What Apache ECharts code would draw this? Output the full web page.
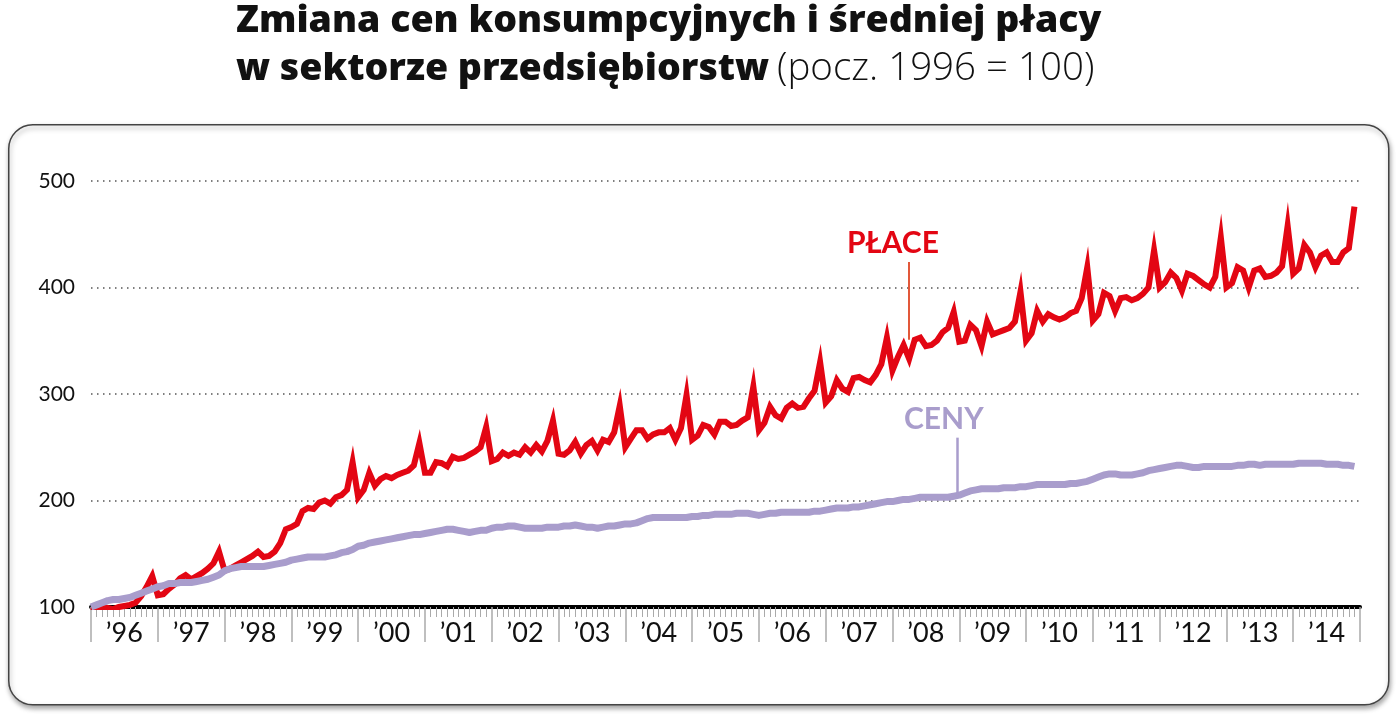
<!DOCTYPE html>
<html>
<head>
<meta charset="utf-8">
<script src="https://cdn.jsdelivr.net/npm/echarts/dist/echarts.min.js"></script>
<style>
  html, body { margin: 0; padding: 0; background: #fff; }
  #chart { width: 1400px; height: 717px; }
</style>
</head>
<body>
<div id="chart"></div>
<script>
// lata na osi X
var years = ['’96', '’97', '’98', '’99', '’00', '’01', '’02', '’03', '’04', '’05',
             '’06', '’07', '’08', '’09', '’10', '’11', '’12', '’13', '’14'];

// przeciętna płaca w sektorze przedsiębiorstw, miesięcznie (sty 1996 = 100)
var place = [
  100, 99, 100, 99, 98, 100, 101, 102, 104, 110, 119, 129,      // 1996
  111, 112, 117, 121, 127, 130, 126, 129, 132, 136, 141, 152,   // 1997
  134, 136, 139, 142, 145, 148, 152, 147, 148, 152, 160, 173,   // 1998
  175, 178, 190, 193, 192, 198, 200, 197, 203, 205, 210, 236,   // 1999
  203, 210, 226, 214, 220, 223, 221, 224, 226, 228, 233, 254,   // 2000
  226, 226, 236, 235, 232, 241, 239, 240, 243, 246, 250, 269,   // 2001
  237, 239, 245, 242, 245, 243, 250, 245, 252, 246, 256, 275,   // 2002
  244, 243, 247, 255, 244, 252, 256, 247, 257, 255, 264, 289,   // 2003
  250, 258, 266, 266, 258, 262, 264, 264, 268, 257, 268, 299,   // 2004
  257, 261, 271, 269, 262, 274, 274, 270, 271, 275, 278, 307,   // 2005
  266, 273, 288, 280, 277, 287, 291, 287, 288, 296, 303, 330,   // 2006
  292, 298, 313, 305, 302, 315, 316, 313, 311, 318, 328, 353,   // 2007
  322, 335, 346, 333, 351, 353, 345, 346, 350, 358, 362, 377,   // 2008
  349, 350, 365, 360, 345, 368, 356, 358, 360, 362, 368, 396,   // 2009
  350, 357, 378, 368, 375, 372, 370, 372, 376, 378, 390, 419,   // 2010
  369, 375, 395, 392, 378, 390, 391, 388, 390, 394, 400, 435,   // 2011
  400, 405, 414, 409, 397, 413, 411, 407, 403, 400, 410, 447,   // 2012
  400, 404, 419, 416, 400, 416, 418, 410, 411, 414, 420, 458,   // 2013
  413, 418, 440, 433, 419, 430, 433, 424, 424, 433, 437, 476    // 2014
];

// ceny konsumpcyjne, miesięcznie (sty 1996 = 100)
var ceny = [
  100, 102, 104, 106, 107, 107, 108, 109, 111, 113, 115, 117,   // 1996
  119, 120, 122, 122, 123, 123, 123, 124, 125, 126, 128, 130,   // 1997
  134, 136, 137, 138, 138, 138, 138, 138, 139, 140, 141, 142,   // 1998
  144, 145, 146, 147, 147, 147, 147, 148, 149, 151, 152, 154,   // 1999
  157, 158, 160, 161, 162, 163, 164, 165, 166, 167, 168, 168,   // 2000
  169, 170, 171, 172, 173, 173, 172, 171, 170, 171, 172, 172,   // 2001
  174, 175, 175, 176, 176, 175, 174, 174, 174, 174, 175, 175,   // 2002
  175, 176, 176, 177, 176, 175, 175, 174, 175, 176, 176, 177,   // 2003
  178, 178, 179, 181, 183, 184, 184, 184, 184, 184, 184, 184,   // 2004
  185, 185, 186, 186, 187, 187, 187, 187, 188, 188, 188, 187,   // 2005
  186, 187, 188, 188, 189, 189, 189, 189, 189, 189, 190, 190,   // 2006
  191, 192, 193, 193, 193, 194, 194, 195, 196, 197, 198, 199,   // 2007
  199, 200, 201, 201, 202, 203, 203, 203, 203, 203, 203, 204,   // 2008
  205, 207, 209, 210, 211, 211, 211, 211, 212, 212, 212, 213,   // 2009
  213, 214, 215, 215, 215, 215, 215, 215, 216, 216, 217, 218,   // 2010
  220, 222, 224, 225, 225, 224, 224, 224, 225, 226, 228, 229,   // 2011
  230, 231, 232, 233, 233, 232, 231, 231, 232, 232, 232, 232,   // 2012
  232, 232, 233, 233, 234, 234, 233, 234, 234, 234, 234, 234,   // 2013
  234, 235, 235, 235, 235, 235, 234, 234, 234, 233, 233, 232    // 2014
];

var yMin = 100, yMax = 500, yStep = 100;

var red = '#e30613';
var lilac = '#a99dcc';
var font = 'Lato, "Open Sans", sans-serif';
var titleFont = '"Open Sans", Lato, sans-serif';

function pairs(arr) {
  return arr.map(function (v, i) { return [i, v]; });
}

var chart = echarts.init(document.getElementById('chart'));
var option = {
  backgroundColor: '#fff',
  animation: false,
  title: {
    left: 231,
    top: -8,
    text: '{a|Zmiana cen konsumpcyjnych i średniej płacy}\n{a|w sektorze przedsiębiorstw}{s| }{b|(pocz. 1996 = 100)}',
    textStyle: {
      rich: {
        a: { fontFamily: titleFont, fontSize: 37.5, fontWeight: 800, color: '#111', lineHeight: 48 },
        s: { fontFamily: titleFont, fontSize: 30, lineHeight: 48 },
        b: { fontFamily: titleFont, fontSize: 38.5, fontWeight: 300, color: '#111', lineHeight: 48 }
      }
    }
  },
  graphic: [
    {
      type: 'rect', z: -10, left: 8, top: 124,
      shape: { width: 1380, height: 580, r: 24 },
      style: { fill: '#fff', stroke: '#444', lineWidth: 1.5,
               shadowBlur: 5, shadowOffsetX: 1, shadowOffsetY: 3, shadowColor: 'rgba(0,0,0,0.35)' }
    },
    {
      type: 'text', left: 847, top: 228, z: 10,
      style: { text: 'PŁACE', fill: red, font: 'bold 30px ' + font }
    },
    {
      type: 'text', left: 904, top: 404, z: 10,
      style: { text: 'CENY', fill: lilac, font: 'bold 30px ' + font }
    }
  ],
  grid: { left: 91, right: 40, top: 181, bottom: 110 },
  xAxis: [
    {
      type: 'value', min: 0, max: years.length * 12, interval: 12,
      axisLine: { show: true, lineStyle: { color: '#000', width: 4 } },
      axisTick: { show: true, length: 35, lineStyle: { color: '#aaa', width: 1.5 } },
      minorTick: { show: true, splitNumber: 12, length: 10, lineStyle: { color: '#aaa', width: 1 } },
      axisLabel: { show: false },
      splitLine: { show: false }
    },
    {
      type: 'category', position: 'bottom', data: years, boundaryGap: true,
      axisLine: { show: false }, axisTick: { show: false },
      axisLabel: { margin: 13, fontSize: 27, color: '#111', fontFamily: font }
    }
  ],
  yAxis: {
    type: 'value', min: yMin, max: yMax, interval: yStep,
    axisLine: { show: false }, axisTick: { show: false },
    axisLabel: { margin: 16, fontSize: 21, color: '#111', fontFamily: font },
    splitLine: { lineStyle: { color: '#555', width: 1.5, type: [1.5, 4.5] } }
  },
  series: [
    {
      name: 'Płace', type: 'line', data: pairs(place), showSymbol: false, z: 3,
      lineStyle: { color: red, width: 6, join: 'miter' },
      markLine: {
        silent: true, symbol: 'none', label: { show: false },
        lineStyle: { color: '#e2583a', width: 2, type: 'solid' },
        data: [[{ coord: [147, 351] }, { coord: [147, 424] }]]
      }
    },
    {
      name: 'Ceny', type: 'line', data: pairs(ceny), showSymbol: false, z: 4,
      lineStyle: { color: lilac, width: 7, join: 'round' },
      markLine: {
        silent: true, symbol: 'none', label: { show: false },
        lineStyle: { color: lilac, width: 2.5, type: 'solid' },
        data: [[{ coord: [155.6, 203] }, { coord: [155.6, 259] }]]
      }
    }
  ]
};
chart.setOption(option);
</script>
</body>
</html>
